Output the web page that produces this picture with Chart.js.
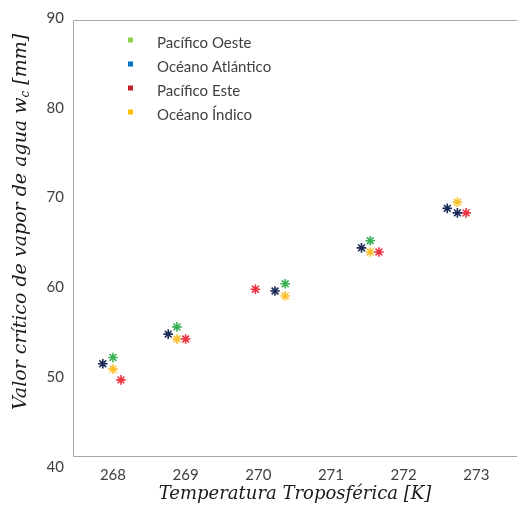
<!DOCTYPE html>
<html>
<head>
<meta charset="utf-8">
<script src="https://cdn.jsdelivr.net/npm/chart.js@4/dist/chart.umd.min.js"></script>
<style>
  html, body { margin: 0; padding: 0; background: #fff; }
  #wrap { width: 517px; height: 505px; }
</style>
</head>
<body>
<div id="wrap"><canvas id="grafico"></canvas></div>
<script>
// series names + colours (legend squares differ from the markers, like the original)
var series = ["Pacífico Oeste", "Océano Atlántico", "Pacífico Este", "Océano Índico"]
var legendColors = ["#92D050", "#0070C0", "#C0202A", "#FFC000"]
var markerColors = ["#3BB153", "#1B2A56", "#EE3240", "#FBC02D"]

// valores
var oesteX = [268.0, 268.88, 270.37, 271.54]
var oesteY = [52.2, 55.6, 60.4, 65.2]
var atlanticoX = [267.86, 268.76, 270.23, 271.42, 272.60, 272.74]
var atlanticoY = [51.5, 54.8, 59.6, 64.4, 68.8, 68.3]
var esteX = [268.11, 269.0, 269.96, 271.66, 272.86]
var esteY = [49.7, 54.25, 59.8, 63.95, 68.3]
var indicoX = [268.0, 268.88, 270.37, 271.54, 272.74]
var indicoY = [50.9, 54.25, 59.05, 63.95, 69.5]

var xTicks = [268, 269, 270, 271, 272, 273]
var yTicks = [40, 50, 60, 70, 80, 90]

function pares(xs, ys) {
  return xs.map(function (x, i) { return { x: x, y: ys[i] } })
}

var allX = [oesteX, atlanticoX, esteX, indicoX]
var allY = [oesteY, atlanticoY, esteY, indicoY]

var datasets = series.map(function (nome, i) {
  return {
    label: nome,
    data: pares(allX[i], allY[i]),
    pointStyle: "star",
    pointRadius: 4.8,
    pointHoverRadius: 4.8,
    borderWidth: 1.6,
    borderColor: markerColors[i],
    backgroundColor: markerColors[i],
    showLine: false
  }
})

// marco gris + leyenda dentro del area
var marco = {
  id: "marco",
  beforeDatasetsDraw: function (chart) {
    var a = chart.chartArea, c = chart.ctx
    c.save()
    c.strokeStyle = "#a6a6a6"
    c.lineWidth = 1
    c.beginPath()
    c.moveTo(a.right + 1, a.top + 2.5)
    c.lineTo(a.left + 0.5, a.top + 2.5)
    c.lineTo(a.left + 0.5, a.bottom - 10.5)
    c.lineTo(a.right + 1, a.bottom - 10.5)
    c.stroke()
    c.restore()
  },
  afterDraw: function (chart) {
    var c = chart.ctx
    c.save()
    c.font = "15px Lato"
    c.textBaseline = "middle"
    series.forEach(function (nome, i) {
      var y = 43 + i * 24
      c.fillStyle = legendColors[i]
      c.fillRect(128, y - 5.5, 5, 5)
      c.fillStyle = "#404040"
      c.fillText(nome, 157, y)
    })
    // titulo eje Y con subindice
    c.translate(21, 222)
    c.rotate(-Math.PI / 2)
    c.fillStyle = "#1a1a1a"
    c.textBaseline = "middle"
    var f1 = "italic 19px 'DejaVu Serif'"
    var f2 = "italic 12px 'DejaVu Serif'"
    var t1 = "Valor crítico de vapor de agua w", t2 = "c", t3 = " [mm]"
    c.font = f1
    var w1 = c.measureText(t1).width, w3 = c.measureText(t3).width
    c.font = f2
    var w2 = c.measureText(t2).width
    var x0 = -(w1 + w2 + w3) / 2
    c.font = f1
    c.fillText(t1, x0, 0)
    c.font = f2
    c.fillText(t2, x0 + w1, 5)
    c.font = f1
    c.fillText(t3, x0 + w1 + w2, 0)
    c.restore()
  }
}

new Chart(document.getElementById("grafico"), {
  type: "scatter",
  data: { datasets: datasets },
  options: {
    responsive: true,
    maintainAspectRatio: false,
    animation: false,
    layout: { autoPadding: false, padding: { top: 18, right: 0, left: 0, bottom: 0 } },
    plugins: {
      legend: { display: false },
      tooltip: { enabled: false }
    },
    scales: {
      x: {
        type: "linear",
        min: 267.45,
        max: 273.56,
        afterBuildTicks: function (s) { s.ticks = xTicks.map(function (v) { return { value: v } }) },
        afterFit: function (s) { s.height = 38; s.paddingLeft = 0; s.paddingRight = 0 },
        grid: { display: false, drawTicks: false },
        border: { display: false },
        ticks: { color: "#404040", font: { family: "Lato", size: 15 }, padding: -1, maxRotation: 0 },
        title: {
          display: true,
          text: "Temperatura Troposférica [K]",
          color: "#1a1a1a",
          font: { family: "DejaVu Serif", style: "italic", size: 18 },
          padding: { top: 0, bottom: 0 }
        }
      },
      y: {
        type: "linear",
        min: 40,
        max: 90,
        afterBuildTicks: function (s) { s.ticks = yTicks.map(function (v) { return { value: v } }) },
        afterFit: function (s) { s.width = 73; s.paddingTop = 0; s.paddingBottom = 0 },
        grid: { display: false, drawTicks: false },
        border: { display: false },
        ticks: { color: "#404040", font: { family: "Lato", size: 15 }, padding: 9 }
      }
    }
  },
  plugins: [marco]
})
</script>
</body>
</html>
